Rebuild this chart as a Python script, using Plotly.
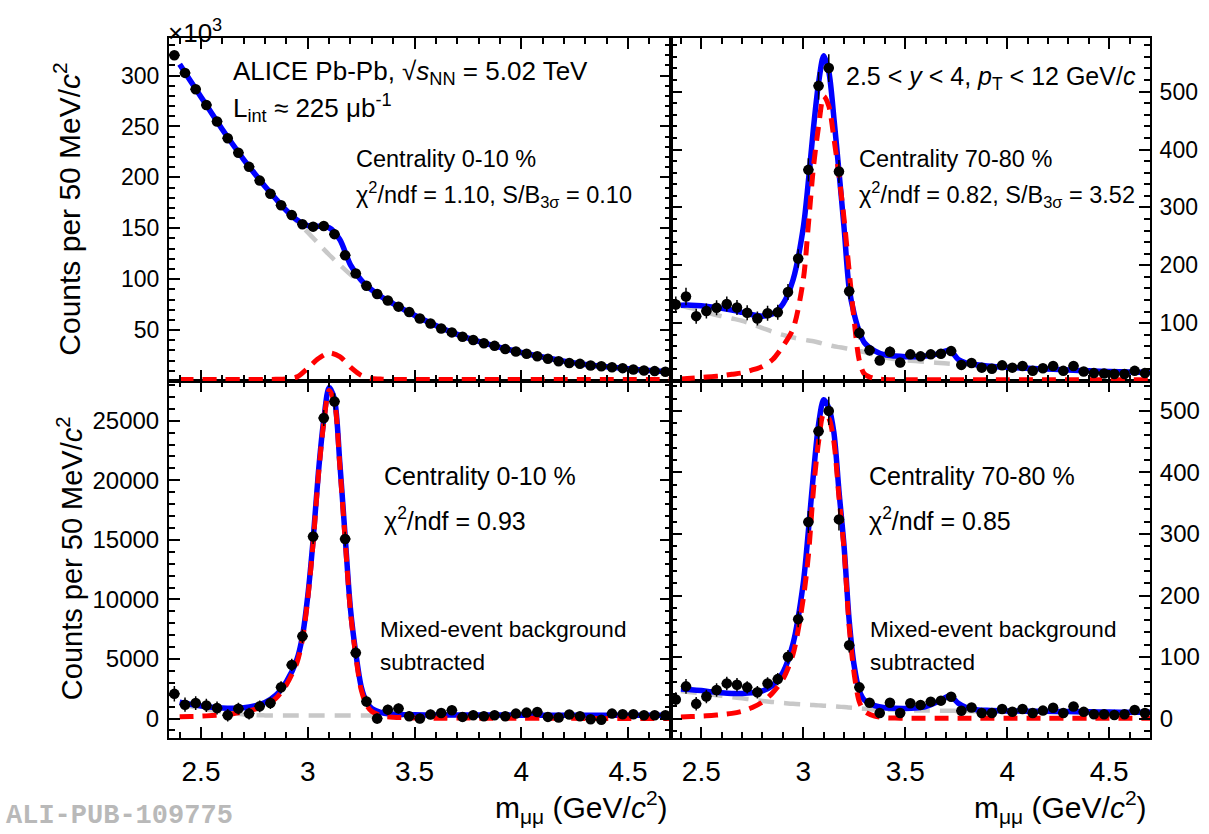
import plotly.graph_objects as go

W, H = 1209, 834

# ---------------- data ----------------
mass = [2.375, 2.425, 2.475, 2.525, 2.575, 2.625, 2.675, 2.725, 2.775, 2.825,
        2.875, 2.925, 2.975, 3.025, 3.075, 3.125, 3.175, 3.225, 3.275, 3.325,
        3.375, 3.425, 3.475, 3.525, 3.575, 3.625, 3.675, 3.725, 3.775, 3.825,
        3.875, 3.925, 3.975, 4.025, 4.075, 4.125, 4.175, 4.225, 4.275, 4.325,
        4.375, 4.425, 4.475, 4.525, 4.575, 4.625, 4.675]

# top-left: 0-10 %, raw (x10^3)
data_tl = [320, 302.6, 286.5, 271, 254.8, 238.4, 224.2, 210.3, 196.8, 183.9,
           172.6, 162.9, 153.9, 151.6, 152.3, 144.2, 123.5, 105.5, 93.5, 85.5,
           79, 73, 67.7, 61.3, 56.5, 51.6, 47.7, 43.5, 40.3, 37.1,
           34.5, 31.3, 29, 26.8, 24.2, 21.9, 19.4, 17.7, 16.8, 15.2,
           14.5, 13.5, 12.6, 11.3, 10.3, 9.7, 9]
# top-right: 70-80 %, raw
data_tr = [132, 146, 112, 121, 126.5, 133, 127, 118, 108, 117,
           118.6, 153.7, 211.6, 364.8, 510, 540.7, 362, 155, 83, 53,
           35.4, 50.5, 31.8, 46, 42.5, 46, 47, 51.6, 27.8, 31,
           23, 21.2, 27, 23, 26, 17.5, 22, 26, 17.5, 26,
           16.5, 13.6, 13, 12, 12, 17.5, 13.6]
err_tr = [14, 15, 13, 13, 13, 13, 13, 13, 12, 13,
          13, 14, 16, 20, 24, 24, 20, 14, 11, 9,
          8, 9, 8, 8, 8, 8, 8, 8, 7, 7,
          6, 6, 6, 6, 6, 5, 6, 6, 5, 6,
          5, 5, 5, 5, 5, 5, 5]
# bottom-left: 0-10 %, mixed-event subtracted
data_bl = [2073, 1161, 1300, 1105, 884, 276, 829, 414, 1022, 1300,
           2626, 4505, 6910, 15280, 25230, 26620, 15070, 5530, 1437, 0,
           746, 850, 193, 0, 332, 470, 690, 138, 276, 193,
           276, 193, 414, 497, 553, 138, 83, 332, 193, -55,
           -110, 414, 359, 359, 276, 276, 276]
err_bl = [650, 600, 580, 560, 540, 520, 500, 500, 490, 490,
          500, 520, 560, 620, 680, 690, 620, 540, 470, 430,
          420, 420, 400, 400, 400, 400, 400, 390, 390, 380,
          380, 380, 370, 370, 370, 360, 360, 360, 350, 350,
          350, 340, 340, 340, 330, 330, 330]
# bottom-right: 70-80 %, mixed-event subtracted
data_br = [31, 52.4, 24, 35.8, 46.5, 57.2, 55, 50.8, 42.8, 57.2,
           64.2, 100.6, 161.6, 319.4, 467, 500, 323.7, 119.3, 50.8, 25.7,
           9, 25.7, 9, 25, 22.3, 27.6, 29.2, 35.6, 12.9, 18.2,
           9.1, 9.1, 15.5, 11.2, 15.5, 9, 13, 17.7, 9, 19.8,
           11, 7, 7, 6, 7, 14, 9]
err_br = [12, 12, 11, 11, 11, 11, 11, 10, 10, 10,
          10, 11, 13, 18, 22, 23, 18, 12, 9, 7,
          6, 6, 6, 6, 6, 6, 6, 6, 5, 5,
          5, 5, 5, 5, 5, 5, 5, 5, 5, 5,
          5, 5, 5, 4, 4, 4, 4]

# ---- fit curves ----
fit_x_tl = [2.40, 2.45, 2.50, 2.55, 2.60, 2.65, 2.70, 2.75, 2.80, 2.85,
            2.90, 2.95, 3.00, 3.05, 3.10, 3.15, 3.20, 3.25, 3.30, 3.35,
            3.40, 3.50, 3.60, 3.70, 3.80, 3.90, 4.00, 4.10, 4.20, 4.30,
            4.40, 4.50, 4.60, 4.70]
tot_tl = [311, 295, 279, 263, 247, 232, 217.5, 204, 191, 179,
          167.5, 158, 152.5, 152, 150.5, 139, 114, 99, 89.5, 82,
          76, 64.5, 54.5, 45.7, 38.8, 33, 28, 23.5, 19.5, 16.2,
          14, 12, 10.3, 9]
bkg_tl = [311, 295, 279, 263, 247, 232, 217.5, 204, 191, 179,
          167.3, 156.5, 146, 135, 124, 114, 104.5, 96, 88.5, 81.8,
          75.8, 64.5, 54.5, 45.7, 38.8, 33, 28, 23.5, 19.5, 16.2,
          14, 12, 10.3, 9]
sig_tl = [1.5, 1.5, 1.5, 1.5, 1.5, 1.5, 1.5, 1.5, 1.5, 1.6,
          2, 4, 12.5, 22, 27.5, 24, 13.5, 5.5, 2.5, 1.8,
          1.5, 1.5, 1.5, 1.5, 1.5, 1.5, 1.5, 1.5, 1.5, 1.5,
          1.5, 1.5, 1.5, 1.5]

fit_x_r = [2.40, 2.45, 2.50, 2.55, 2.60, 2.65, 2.70, 2.75, 2.80, 2.85,
           2.90, 2.95, 3.00, 3.025, 3.05, 3.075, 3.10, 3.125, 3.15, 3.175,
           3.20, 3.225, 3.25, 3.275, 3.30, 3.35, 3.40, 3.45, 3.50, 3.55,
           3.60, 3.65, 3.69, 3.72, 3.76, 3.80, 3.85, 3.90, 4.00, 4.10,
           4.20, 4.30, 4.40, 4.50, 4.60, 4.70]
tot_tr = [131, 131, 130, 128, 125.5, 122.5, 118.5, 114.5, 112, 116,
          133, 175, 265, 345, 437, 515, 562, 535, 455, 362,
          265, 160, 115, 85, 66, 52, 45, 43, 42, 42,
          43, 46, 51, 53, 37, 31, 28, 26, 23.5, 22,
          20.5, 19, 17.5, 16.5, 15.5, 14.8]
bkg_tr = [130, 126, 121, 116, 112, 108, 104, 98, 91.5, 85,
          79.5, 75, 71.5, 70, 68.6, 66.5, 64, 62, 60, 58.5,
          57, 55.5, 54, 52, 50, 45, 40.5, 37.5, 35.5, 34.3,
          33, 31.5, 30.5, 29.8, 29, 28, 27, 26, 23.5, 21.5,
          20, 18.5, 17, 16, 15, 14.3]
sig_tr = [3.5, 4.5, 6, 7.5, 9, 11.5, 14, 19, 25, 37,
          60, 90, 175, 270, 370, 440, 492, 475, 420, 355,
          280, 190, 103, 35, 12, 4, 2.5, 2, 2, 2,
          2, 2, 2, 2, 2, 2, 2, 2, 2, 2,
          2, 2, 2, 2, 2, 2]

fit_x_bl = [2.40, 2.45, 2.50, 2.55, 2.60, 2.65, 2.70, 2.75, 2.80, 2.85,
            2.90, 2.95, 2.975, 3.00, 3.025, 3.05, 3.075, 3.10, 3.125, 3.15,
            3.175, 3.20, 3.225, 3.25, 3.275, 3.30, 3.35, 3.40, 3.50, 3.60,
            3.70, 3.80, 4.00, 4.20, 4.40, 4.70]
tot_bl = [1380, 1200, 1050, 950, 880, 860, 900, 1050, 1350, 1950,
          3100, 5000, 6900, 10300, 15000, 20700, 25100, 27800, 26800, 21500,
          15300, 9200, 5500, 2700, 1400, 850, 480, 370, 320, 300,
          300, 290, 285, 280, 275, 270]
bkg_bl = [1230, 1030, 850, 700, 570, 450, 340, 280, 265, 260,
          260, 260, 260, 260, 260, 260, 260, 260, 260, 260,
          260, 260, 260, 260, 260, 260, 260, 260, 260, 258,
          258, 257, 256, 256, 255, 255]
sig_bl = [150, 170, 200, 250, 310, 410, 560, 770, 1090, 1690,
          2840, 4740, 6640, 10040, 14740, 20440, 24840, 27540, 26540, 21240,
          15040, 8940, 5240, 2440, 1140, 590, 220, 110, 50, 30,
          40, 30, 20, 15, 10, 5]

tot_br = [48, 47, 45.5, 43.5, 42, 41, 41, 42, 45, 54,
          75, 122, 220, 305, 398, 478, 518, 505, 465, 370,
          280, 160, 85, 45, 30, 21, 17.5, 16.8, 16.6, 17.2,
          19.5, 26, 33, 37, 25, 18, 14.5, 13.5, 12.5, 12,
          11.8, 11.5, 11, 10.7, 10.4, 10.2]
bkg_br = [45, 43, 41, 39, 37, 35, 33, 31, 28.5, 27,
          25.5, 24, 23, 22.5, 22, 21.5, 21, 20.5, 20, 19.3,
          18.8, 18, 17.3, 16.5, 16, 15, 14.5, 14, 13.5, 13.2,
          13, 13, 12.8, 12.7, 12.5, 12.3, 12, 11.8, 11.5, 11,
          10.8, 10.6, 10.3, 10, 9.7, 9.5]
sig_br = [2.7, 3.3, 4, 5, 6.5, 8.5, 12, 18, 27, 42,
          64, 105, 195, 265, 372, 450, 495, 488, 450, 360,
          275, 150, 72, 27, 12, 4, 1.5, 0.8, 0.5, 0.5,
          0.5, 0.5, 0.5, 0.5, 0.5, 0.5, 0.5, 0.5, 0.5, 0.5,
          0.5, 0.5, 0.5, 0.5, 0.5, 0.5]

# ---------------- styling ----------------
FONT = "Liberation Sans"
BLUE = "rgb(0,0,255)"
RED = "rgb(255,0,0)"
GRAY = "rgb(200,200,200)"

fig = go.Figure()


def add_panel(xa, ya, fx, tot, bkg, sig, dx, dy, dey):
    fig.add_trace(go.Scatter(x=fx, y=bkg, mode="lines", xaxis=xa, yaxis=ya,
                             line=dict(color=GRAY, width=4.5, dash="16px,10px",
                                       shape="spline", smoothing=0.8)))
    fig.add_trace(go.Scatter(x=fx, y=tot, mode="lines", xaxis=xa, yaxis=ya,
                             line=dict(color=BLUE, width=5.5,
                                       shape="spline", smoothing=0.8)))
    fig.add_trace(go.Scatter(x=fx, y=sig, mode="lines", xaxis=xa, yaxis=ya,
                             line=dict(color=RED, width=5, dash="14px,9px",
                                       shape="spline", smoothing=0.8)))
    err = dict(type="data", array=dey, visible=True, color="black",
               thickness=1.5, width=0) if dey is not None else None
    fig.add_trace(go.Scatter(x=dx, y=dy, mode="markers", xaxis=xa, yaxis=ya,
                             marker=dict(color="black", size=10.5, symbol="circle"),
                             error_y=err,
                             error_x=dict(type="constant", value=0.025, visible=True,
                                          color="black", thickness=1.5, width=0),
                             cliponaxis=False))


add_panel("x3", "y3", fit_x_tl, tot_tl, bkg_tl, sig_tl, mass, data_tl, None)
add_panel("x4", "y4", fit_x_r, tot_tr, bkg_tr, sig_tr, mass, data_tr, err_tr)
add_panel("x", "y", fit_x_bl, tot_bl, bkg_bl, sig_bl, mass, data_bl, err_bl)
add_panel("x2", "y2", fit_x_r, tot_br, bkg_br, sig_br, mass, data_br, err_br)

xL = [169 / W, 670.7 / W]
xR = [670.7 / W, 1150 / W]
yT = [1 - 387 / H, 1 - 39 / H]
yB = [1 - 750 / H, 1 - 387 / H]


def xaxis(domain, anchor, labels):
    return dict(domain=domain, anchor=anchor, range=[2.35, 4.7],
                tickmode="linear", tick0=2.5, dtick=0.5,
                ticks="inside", ticklen=11, tickwidth=1.5, tickcolor="black",
                minor=dict(ticks="inside", ticklen=6, tickwidth=1.5,
                           tickcolor="black", tick0=2.4, dtick=0.1),
                showline=True, linewidth=2, linecolor="black", mirror="allticks",
                showgrid=False, zeroline=False, showticklabels=labels,
                ticklabelstandoff=7,
                tickfont=dict(family=FONT, size=28, color="black"))


def yaxis(domain, anchor, rng, dtick, mdtick, side, size, alias=None):
    d = dict(domain=domain, anchor=anchor, range=rng, side=side,
             tickmode="linear", tick0=0, dtick=dtick, tickformat="d",
             ticks="inside", ticklen=11, tickwidth=1.5, tickcolor="black",
             minor=dict(ticks="inside", ticklen=6, tickwidth=1.5,
                        tickcolor="black", tick0=0, dtick=mdtick),
             showline=True, linewidth=2, linecolor="black", mirror="allticks",
             showgrid=False, zeroline=False, ticklabelstandoff=3,
             tickfont=dict(family=FONT, size=size, color="black"))
    if alias:
        d["labelalias"] = alias
    return d


fig.update_layout(
    width=W, height=H,
    margin=dict(l=0, r=0, t=0, b=0),
    paper_bgcolor="white", plot_bgcolor="white",
    showlegend=False,
    xaxis=xaxis(xL, "y", True),
    yaxis=yaxis(yB, "x", [-1660, 28340], 5000, 1000, "left", 24),
    xaxis2=xaxis(xR, "y2", True),
    yaxis2=yaxis(yB, "x2", [-32, 548.6], 100, 20, "right", 24),
    xaxis3=xaxis(xL, "y3", False),
    yaxis3=yaxis(yT, "x3", [0, 336.5], 50, 10, "left", 23, {"0": " "}),
    xaxis4=xaxis(xR, "y4", False),
    yaxis4=yaxis(yT, "x4", [0, 592], 100, 20, "right", 23, {"0": " "}),
)


def txt(x, y, s, size, xanchor="left", yanchor="middle", angle=0, family=FONT,
        color="black"):
    fig.add_annotation(x=x / W, y=1 - y / H, xref="paper", yref="paper",
                       text=s, showarrow=False, xanchor=xanchor, yanchor=yanchor,
                       textangle=angle,
                       font=dict(family=family, size=size, color=color))


txt(166, 32, "×10<sup>3</sup>", 26)
txt(231, 74, "ALICE Pb-Pb, √<i>s</i><sub>NN</sub> = 5.02 TeV", 26)
txt(231, 110, "L<sub>int</sub> ≈ 225 μb<sup>-1</sup>", 26)
txt(354, 162, "Centrality 0-10 %", 23.5)
txt(354, 198, "χ<sup>2</sup>/ndf = 1.10, S/B<sub>3σ</sub> = 0.10", 23.5)

txt(844, 79, "2.5 &lt; <i>y</i> &lt; 4, <i>p</i><sub>T</sub> &lt; 12 GeV/<i>c</i>", 25)
txt(857, 162, "Centrality 70-80 %", 23.5)
txt(857, 198, "χ<sup>2</sup>/ndf = 0.82, S/B<sub>3σ</sub> = 3.52", 23.5)

txt(382, 484, "Centrality 0-10 %", 25)
txt(382, 527, "χ<sup>2</sup>/ndf = 0.93", 25)
txt(378, 639, "Mixed-event background", 22.5)
txt(378, 673, "subtracted", 22.5)

txt(867, 484, "Centrality 70-80 %", 25)
txt(867, 527, "χ<sup>2</sup>/ndf = 0.85", 25)
txt(868, 639, "Mixed-event background", 22.5)
txt(868, 673, "subtracted", 22.5)

txt(67, 212, "Counts per 50 MeV/<i>c</i><sup>2</sup>", 30, xanchor="center", angle=-90)
txt(70, 567, "Counts per 50 MeV/<i>c</i><sup>2</sup>", 29, xanchor="center", angle=-90)

txt(670, 820, "m<sub>μμ</sub> (GeV/<i>c</i><sup>2</sup>)", 30, xanchor="right")
txt(1149, 820, "m<sub>μμ</sub> (GeV/<i>c</i><sup>2</sup>)", 30, xanchor="right")

txt(4, 829, "<b>ALI-PUB-109775</b>", 27, family="Liberation Mono",
    color="rgb(185,185,185)")

fig.write_html("out.html")
